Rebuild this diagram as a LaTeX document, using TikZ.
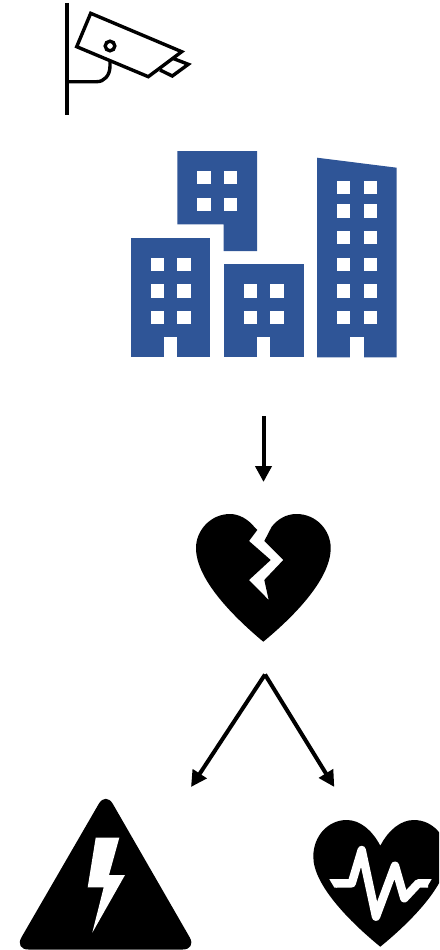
\documentclass[tikz,border=0pt]{standalone}
\usetikzlibrary{arrows.meta}
\definecolor{bldgblue}{HTML}{2F5597}
\tikzset{
  flow/.style={-{Triangle[length=16pt,width=16pt]},line width=4pt,black},
  camline/.style={draw=black,line width=3.6pt,line join=miter},
  camthin/.style={draw=black,line width=3.4pt,line join=miter},
  bldg/.style={fill=bldgblue},
  pane/.style={fill=white},
  pulse/.style={draw=white,line width=8.4pt,line join=round}
}

\begin{document}
\begin{tikzpicture}[x=1pt,y=-1pt]
\clip (0,0) rectangle (439,950);
% camera
\draw[camline] (67,3)--(67,115);
\draw[camthin] (90.7,13.3)--(181.7,51.7)--(148.3,76.7)--(76.7,46.7)--cycle;
\draw[camthin] (172.7,58.3)--(188.3,64.3)--(172.3,76)--(160,70);
\draw[camthin] (110,46) circle (4.8);
\draw[camthin] (110,62)--(110,66) .. controls (110,75.7) and (104,81.7) .. (96.7,81.7)--(67,81.7);
% buildings
\fill[bldg] (177.3,151)--(257,151)--(257,251)--(223.7,251)--(223.7,224.3)--(177.3,224.3)--cycle;
\foreach \wx in {197.3,224} \foreach \wy in {171,197.7}
  \fill[pane] (\wx,\wy) rectangle ++(13.3,13.3);
\fill[bldg] (130.7,237.7) rectangle (210.3,357.3);
\fill[pane] (164,337.3) rectangle (177.3,357.6);
\foreach \wx in {150.7,177.3} \foreach \wy in {257.7,284.3,311}
  \fill[pane] (\wx,\wy) rectangle ++(13.3,13.3);
\fill[bldg] (224,264.3) rectangle (303.7,357.3);
\fill[pane] (257,337.3) rectangle (270.3,357.6);
\foreach \wx in {243.7,270.3} \foreach \wy in {284.3,311}
  \fill[pane] (\wx,\wy) rectangle ++(13.3,13.3);
\fill[bldg] (317,157.7)--(396.7,167.7)--(396.7,357.3)--(317,357.3)--cycle;
\fill[pane] (350.3,337.3) rectangle (363.7,357.6);
\foreach \wx in {337,363.7} \foreach \wy in {181,204.3,231,257.7,284.3,311}
  \fill[pane] (\wx,\wy) rectangle ++(13.3,13.3);
% arrows
\coordinate (downstart) at (263.5,416);
\coordinate (downend) at (263.5,482);
\coordinate (forktop) at (265,674.5);
\coordinate (forkleft) at (191,787);
\coordinate (forkright) at (334.3,787);
\draw[flow] (downstart)--(downend);
\draw[flow] (forktop)--(forkleft);
\draw[flow] (forktop)--(forkright);
% broken heart
\fill[black] (257.3,530)--(255,527.7) .. controls (248,519) and (239,514) .. (230,514)
  .. controls (211,514) and (196,530) .. (196,548)
  .. controls (196,580) and (235,618) .. (263.3,641.7)
  .. controls (292,618) and (330.7,580) .. (330.7,548)
  .. controls (330.7,530) and (316,514) .. (296.7,514)
  .. controls (286,514) and (278,519) .. (271.7,526.7)
  --(264.3,541)--(283.3,560)--(264.3,580)--(268.7,600)--(249,580)--(270.7,560)--(249,541)--cycle;
% warning sign
\fill[black,rounded corners=14pt] (105.8,791.7)--(196.7,949.5)--(14.4,949.5)--cycle;
\fill[pane] (95.7,837.7)--(119.3,837.7)--(109,875)--(125,875)--(92.3,932.7)--(103.7,887.3)--(87.7,887.3)--cycle;
% heart with pulse
\fill[black] (380.3,845.7) .. controls (372,830) and (360,820) .. (346.7,820)
  .. controls (328,820) and (313.3,836) .. (313.3,856.7)
  .. controls (313.3,885) and (350,922) .. (380.3,946.7)
  .. controls (410.6,922) and (447.3,885) .. (447.3,856.7)
  .. controls (447.3,836) and (432.6,820) .. (413.9,820)
  .. controls (400.6,820) and (388.6,830) .. (380.3,845.7)--cycle;
\draw[pulse] (336,883.3)--(351.7,883.3)--(361.7,850)--(376,916.7)--(395,865.7)--(404.3,898.3)--(418.3,883.3)--(428,883.3);
\fill[pane] (329.3,879.1)--(337,879.1)--(337,887.5)--(334.3,887.5)--cycle;
\fill[pane] (427,879.1)--(431.7,879.1)--(426.7,887.5)--(427,887.5)--cycle;
\end{tikzpicture}
\end{document}
